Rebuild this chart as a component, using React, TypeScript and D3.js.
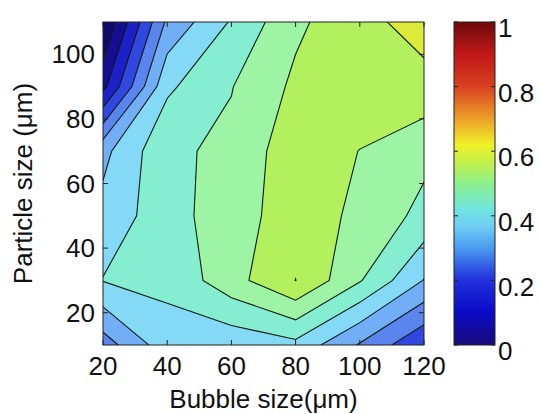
import React from "react";
import * as d3 from "d3";

// ---- data ----
const xValues = [20, 40, 60, 80, 100, 120];
const yValues = [10, 30, 50, 70, 90, 110];
// rows ordered by y ascending (y = 10 ... 110), columns by x ascending
const zRow10 = [0.325, 0.43, 0.415, 0.436, 0.345, 0.255];
const zRow30 = [0.452, 0.461, 0.531, 0.6006, 0.504, 0.398];
const zRow50 = [0.417, 0.48, 0.528, 0.575, 0.54, 0.485];
const zRow70 = [0.386, 0.49, 0.5115, 0.5815, 0.549, 0.514];
const zRow90 = [0.185, 0.441, 0.498, 0.56, 0.58, 0.584];
const zRow110 = [0.1, 0.36, 0.455, 0.54, 0.585, 0.62];
const levels = [0.15, 0.2, 0.25, 0.3, 0.35, 0.4, 0.45, 0.5, 0.55, 0.6];
const xTicks = [20, 40, 60, 80, 100, 120];
const yTicks = [20, 40, 60, 80, 100];
const cbarTicks = [0, 0.2, 0.4, 0.6, 0.8, 1];
const xLabel = "Bubble size(\u03bcm)";
const yLabel = "Particle size (\u03bcm)";

// ---- styles ----
const baseColor = "#100a70";
const bandColors = [
  "#150e92",
  "#1c20c8",
  "#3048e0",
  "#5a84ee",
  "#72aef6",
  "#84daf6",
  "#86eed0",
  "#9cf4a4",
  "#b2f05e",
  "#dcea3a",
];
const cbarStops: [number, string][] = [
  [0.0, "#1a0a78"],
  [0.1, "#0a0ac8"],
  [0.2, "#2030dc"],
  [0.3, "#4a9af0"],
  [0.37, "#70d0f4"],
  [0.42, "#70e4e0"],
  [0.5, "#8cf08c"],
  [0.56, "#c0f050"],
  [0.62, "#f0f028"],
  [0.7, "#eca028"],
  [0.8, "#d84020"],
  [0.9, "#c01818"],
  [1.0, "#6e0a0a"],
];
const FONT = "'Liberation Sans', Arial, Helvetica, sans-serif";
const W = 540;
const H = 414;
const plot = { left: 103, right: 424, top: 22, bottom: 345 };
const cbar = { left: 454, right: 495, top: 22, bottom: 345 };

export default function App() {
  const xScale = d3.scaleLinear().domain([20, 120]).range([plot.left, plot.right]);
  const yScale = d3.scaleLinear().domain([10, 110]).range([plot.bottom, plot.top]);
  const nx = xValues.length;
  const ny = yValues.length;
  const gx = d3.scaleLinear().domain([0.5, nx - 0.5]).range([xValues[0], xValues[nx - 1]]);
  const gy = d3.scaleLinear().domain([0.5, ny - 0.5]).range([yValues[0], yValues[ny - 1]]);
  const rows = [zRow10, zRow30, zRow50, zRow70, zRow90, zRow110];
  const flat = rows.flat();
  const contours = d3.contours().size([nx, ny]).thresholds(levels)(flat);
  const proj = d3.geoTransform({
    point(x: number, y: number) {
      (this as any).stream.point(xScale(gx(x)), yScale(gy(y)));
    },
  });
  const path = d3.geoPath(proj as any);
  const cScale = d3.scaleLinear().domain([0, 1]).range([cbar.bottom, cbar.top]);
  const tickLen = 5;

  return (
    <svg
      width={W}
      height={H}
      viewBox={`0 0 ${W} ${H}`}
      style={{ position: "absolute", left: 0, top: 0, background: "#fff" }}
      fontFamily={FONT}
    >
      <defs>
        <clipPath id="plotClip">
          <rect x={plot.left} y={plot.top} width={plot.right - plot.left} height={plot.bottom - plot.top} />
        </clipPath>
        <linearGradient id="cbarGrad" x1="0" y1="1" x2="0" y2="0">
          {cbarStops.map(([o, c], i) => (
            <stop key={i} offset={o} stopColor={c} />
          ))}
        </linearGradient>
      </defs>
      <rect x={0} y={0} width={W} height={H} fill="#fff" />
      <g clipPath="url(#plotClip)">
        <rect
          x={plot.left}
          y={plot.top}
          width={plot.right - plot.left}
          height={plot.bottom - plot.top}
          fill={baseColor}
        />
        {contours.map((c, i) => (
          <path key={"f" + i} d={path(c as any) || ""} fill={bandColors[i]} stroke="none" />
        ))}
        {contours.map((c, i) => (
          <path key={"s" + i} d={path(c as any) || ""} fill="none" stroke="#0c1a10" strokeWidth={1.1} />
        ))}
      </g>
      {/* axes box */}
      <rect
        x={plot.left}
        y={plot.top}
        width={plot.right - plot.left}
        height={plot.bottom - plot.top}
        fill="none"
        stroke="#222"
        strokeWidth={1}
      />
      {xTicks.map((t) => (
        <g key={"xt" + t}>
          <line x1={xScale(t)} x2={xScale(t)} y1={plot.bottom} y2={plot.bottom - tickLen} stroke="#222" />
          <line x1={xScale(t)} x2={xScale(t)} y1={plot.top} y2={plot.top + tickLen} stroke="#222" />
          <text x={xScale(t)} y={375} fontSize={26} textAnchor="middle" fill="#111">
            {t}
          </text>
        </g>
      ))}
      {yTicks.map((t) => (
        <g key={"yt" + t}>
          <line x1={plot.left} x2={plot.left + tickLen} y1={yScale(t)} y2={yScale(t)} stroke="#222" />
          <line x1={plot.right} x2={plot.right - tickLen} y1={yScale(t)} y2={yScale(t)} stroke="#222" />
          <text x={95} y={yScale(t)} dy="0.35em" fontSize={26} textAnchor="end" fill="#111">
            {t}
          </text>
        </g>
      ))}
      <text x={(plot.left + plot.right) / 2} y={408} fontSize={26} textAnchor="middle" fill="#111">
        {xLabel}
      </text>
      <text
        transform={`translate(32, ${(plot.top + plot.bottom) / 2}) rotate(-90)`}
        fontSize={26}
        textAnchor="middle"
        fill="#111"
      >
        {yLabel}
      </text>
      {/* colorbar */}
      <rect
        x={cbar.left}
        y={cbar.top}
        width={cbar.right - cbar.left}
        height={cbar.bottom - cbar.top}
        fill="url(#cbarGrad)"
        stroke="#222"
        strokeWidth={1}
      />
      {cbarTicks.map((t) => (
        <g key={"ct" + t}>
          <line x1={cbar.left} x2={cbar.left + 4} y1={cScale(t)} y2={cScale(t)} stroke="#222" />
          <line x1={cbar.right} x2={cbar.right - 4} y1={cScale(t)} y2={cScale(t)} stroke="#222" />
          <text x={498} y={cScale(t) + 6} dy="0.35em" fontSize={26} textAnchor="start" fill="#111">
            {t}
          </text>
        </g>
      ))}
    </svg>
  );
}
